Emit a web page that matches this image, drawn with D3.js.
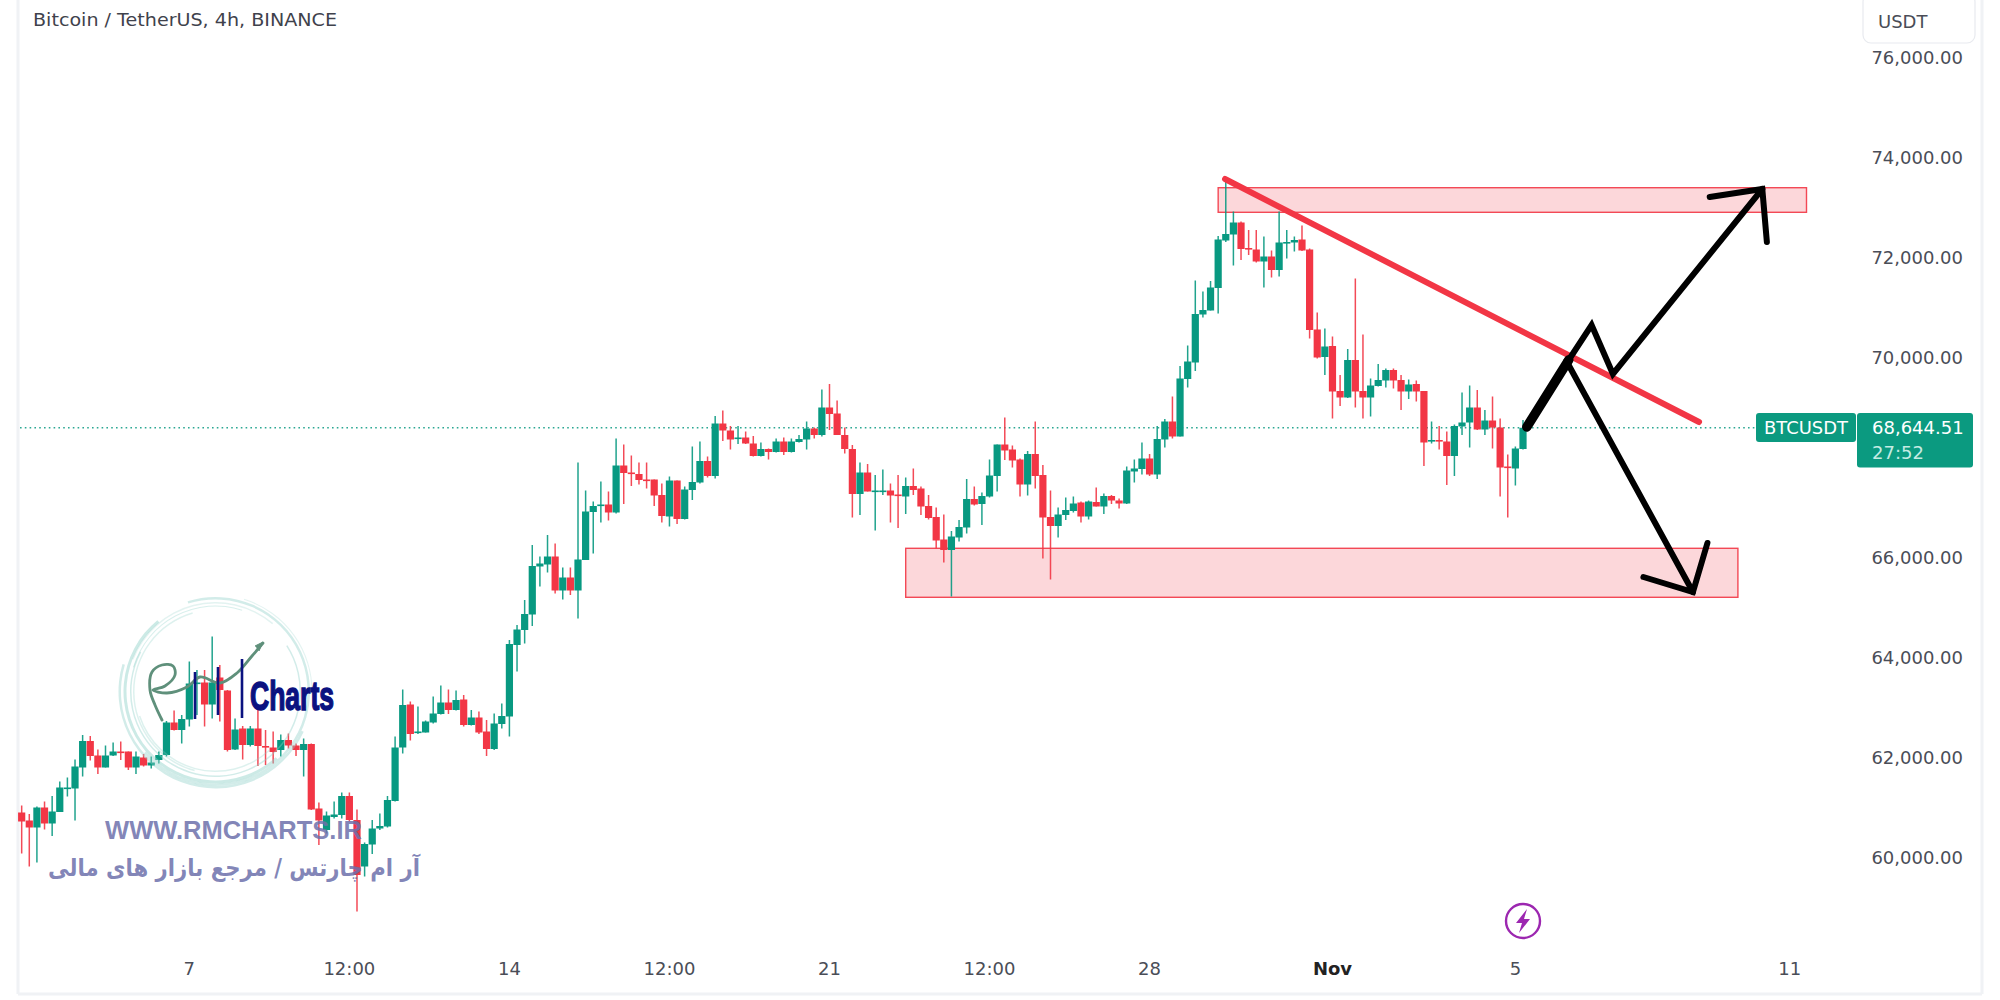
<!DOCTYPE html>
<html><head><meta charset="utf-8">
<style>html,body{margin:0;padding:0;background:#fff;overflow:hidden}svg{display:block}text{font-family:"DejaVu Sans",sans-serif}</style>
<script src="https://cdn.jsdelivr.net/npm/d3@7"></script></head><body>
<svg id="c" width="2000" height="1000"></svg>
<script>
const opens=[60950,60790,60650,61050,60730,60960,61440,61430,61850,62380,
62090,61850,62090,62170,62170,61850,62050,61890,62000,62100,
62750,62600,62810,63530,63550,63110,63650,63390,62210,62630,
62300,62630,62280,62250,62200,62400,62290,62200,62320,61030,
60600,60860,60900,61280,60800,59870,60310,60630,60670,61180,
62250,63110,62550,62550,62750,62920,63150,63000,63210,62700,
62850,62570,62220,62720,62870,64300,64600,64910,65870,65910,
66070,65390,65650,65390,66000,66960,67100,67110,66950,67890,
67750,67720,67610,67610,67300,66870,67590,66820,67400,67550,
67980,67680,68730,68590,68440,68450,68330,68080,68220,68160,
68370,68160,68360,68410,68630,68500,69050,68930,68500,68220,
67320,67750,67380,67380,67390,67310,67270,67480,67430,67080,
66860,66410,66200,66450,66650,67220,67120,67270,67680,68310,
68210,68010,67510,68120,67700,66860,66680,66900,66980,67150,
66870,67160,67070,67280,67190,67130,67770,67820,68030,67710,
68410,68770,68470,69620,69950,70910,70990,71440,72390,72510,
72750,72240,72210,71970,72070,71800,72350,72350,72410,72210,
70610,70060,70280,69380,69250,70000,69380,69250,69480,69590,
69800,69600,69370,69520,69380,68390,68400,68370,68080,68670,
68750,69050,68610,68790,68650,67870,67830,68220];
const closes=[60770,60650,61050,60730,60970,61450,61450,61870,62380,62080,
61850,62090,62170,62160,61850,62070,61890,61950,62100,62750,
62600,62820,63530,63550,63110,63550,63400,62200,62610,62300,
62630,62280,62250,62160,62400,62290,62200,62320,61010,60790,
60890,60910,61280,60800,59700,60320,60630,60680,61200,62250,
63100,62520,62570,62770,62930,63150,63000,63200,62700,62850,
62550,62220,62730,62880,64320,64610,64920,65880,65930,66070,
65390,65650,65390,66010,66970,67080,67110,66950,67890,67740,
67740,67600,67600,67290,66880,67590,66820,67410,67560,67980,
67680,68730,68590,68410,68450,68330,68080,68220,68160,68370,
68160,68370,68420,68630,68500,69050,68920,68500,68220,67320,
67750,67370,67390,67390,67290,67290,67480,67400,67070,66840,
66390,66200,66470,66660,67220,67110,67280,67690,68310,68190,
67990,67510,68120,67680,66850,66680,66910,67000,67130,66870,
67170,67070,67280,67190,67130,67790,67830,68030,67710,68420,
68770,68470,69630,69970,70920,71000,71450,72410,72520,72750,
72220,72230,71970,72070,71800,72350,72360,72400,72190,70600,
70050,70270,69370,69250,70000,69370,69250,69490,69600,69800,
69590,69370,69510,69370,68350,68400,68370,68080,68680,68750,
69050,68610,68790,68650,67850,67860,68230,68644.51];
const highs=[61090,60920,61070,61170,61280,61570,61650,62010,62500,62480,
62210,62290,62350,62370,62170,62170,62120,62070,62170,62780,
62990,62900,63970,63800,63800,64470,63900,63400,62830,62680,
62680,63000,62600,62570,62510,62530,62330,62430,62330,61150,
60970,61170,61350,61350,61010,60350,60800,60930,61280,62470,
63410,63170,63070,62790,63270,63490,63410,63390,63300,63000,
62970,62800,62930,63130,64400,64700,65200,66300,66070,66500,
66330,65850,65850,67950,67390,67170,67570,67370,68430,68310,
68090,67950,67950,67610,67530,67670,67590,67470,68270,68370,
68070,68880,68990,68680,68680,68570,68480,68350,68230,68430,
68450,68430,68500,68770,68650,69410,69520,69190,68650,68300,
67950,67920,67700,67810,67530,67700,67650,67830,67470,67300,
67050,66910,66580,66800,67620,67470,67350,68010,68310,68850,
68290,68030,68180,68770,67900,67390,67050,67250,67270,67170,
67190,67450,67330,67300,67230,67870,68010,68350,68120,68680,
68820,69270,69880,70290,71590,71370,71580,72480,73610,72970,
72770,72600,72600,72470,72190,72970,72600,72470,72690,72230,
70950,70630,70470,69700,70220,71630,70510,69630,69920,69830,
69830,69700,69610,69590,69380,68770,68680,68570,68710,69350,
69490,69400,69000,69270,68830,68110,68270,68800];
const lows=[60130,59870,59950,60610,60480,60960,61270,60790,61670,61990,
61720,61850,62080,62000,61800,61720,61870,61830,61930,62070,
62590,62330,62670,62900,62670,62830,62770,62170,62200,62010,
62270,61880,61900,61930,62070,62230,62080,61670,61000,60300,
60530,60830,60830,60770,58970,59670,60120,60600,60650,61170,
62130,62390,62520,62550,62730,62910,62920,62990,62670,62690,
62520,62080,62200,62630,62470,63770,64330,64680,65470,65750,
65330,65210,65300,64830,66000,66130,66750,66790,66930,67120,
67480,67510,67430,67080,66750,66670,66720,66810,67200,67530,
67650,67630,68380,68210,68320,68320,68070,68070,68010,68150,
68100,68150,68350,68210,68430,68470,68600,68500,68130,66850,
66900,67370,66590,67300,66750,66640,66920,67300,66900,66810,
66230,65950,65270,66370,66530,67090,66700,67250,67370,68000,
67850,67270,67290,67430,66030,65610,66450,66800,66950,66750,
66810,67070,66920,67120,67030,67120,67550,67710,67680,67620,
68250,68430,68470,69450,69780,70850,70990,70930,72360,71890,
72000,72100,71950,71450,71650,71670,72030,72170,72180,70430,
70030,69700,68830,69080,69240,69050,68830,68870,69470,69450,
69430,69000,69220,69170,67880,68330,68210,67500,67680,68500,
68250,68600,68500,68230,67270,66850,67490,68210];

const priceTicks=[60000,62000,64000,66000,68000,70000,72000,74000,76000];
const timeTickBars=[22,43,64,85,106,127,148,172,196,232];
const timeTickLabels=["7","12:00","14","12:00","21","12:00","28","Nov","5","11"];
const lastPrice=68644.51;
const zones=[{x0:157,x1:234.2,top:73446,bottom:72954},{x0:116,x1:225.2,top:66234,bottom:65254}];
const trendLine=[[157.9,73620],[220.1,68760]];
const zigzagThick=[[197.5,68660],[203,70000]];
const zigzagUp=[[203,70000],[206,70700],[208.8,69720],[228.4,73420]];
const headUp=[[221.5,73260],[228.4,73420],[229,72360]];
const arrowDown=[[202.7,69980],[219.3,65360]];
const headDown=[[212.8,65660],[219.3,65360],[221.2,66340]];

const GREEN="#089981",RED="#f23645";
const x=d3.scaleLinear().domain([0,197]).range([21.67,1523]);
const y=d3.scaleLinear().domain([60000,76000]).range([860,60]);
const svg=d3.select("#c");
svg.append("rect").attr("width",2000).attr("height",1000).attr("fill","#fff");

// frame
const frame=[[18,0,18,994],[18,994,1982,994],[1982,0,1982,994]];
svg.selectAll("line.frame").data(frame).join("line").attr("class","frame")
 .attr("x1",d=>d[0]).attr("y1",d=>d[1]).attr("x2",d=>d[2]).attr("y2",d=>d[3])
 .attr("stroke","#f0f2f5").attr("stroke-width",3);

// price line
svg.append("line").attr("x1",20).attr("x2",1756).attr("y1",y(lastPrice)).attr("y2",y(lastPrice))
 .attr("stroke",GREEN).attr("stroke-width",1.4).attr("stroke-dasharray","1.6 3.2").attr("opacity",.85);

// zones
svg.selectAll("rect.zone").data(zones).join("rect").attr("class","zone")
 .attr("x",d=>x(d.x0)).attr("width",d=>x(d.x1)-x(d.x0))
 .attr("y",d=>y(d.top)).attr("height",d=>y(d.bottom)-y(d.top))
 .attr("fill",RED).attr("fill-opacity",.2).attr("stroke",RED).attr("stroke-opacity",.9).attr("stroke-width",1.4);

// candles
const idx=d3.range(opens.length);
const col=i=>closes[i]>=opens[i]?GREEN:RED;
svg.append("g").selectAll("line").data(idx).join("line")
 .attr("x1",x).attr("x2",x).attr("y1",i=>y(highs[i])).attr("y2",i=>y(lows[i]))
 .attr("stroke",col).attr("stroke-width",1.5).attr("stroke-opacity",.9);
svg.append("g").selectAll("rect").data(idx).join("rect")
 .attr("x",i=>x(i)-3.6).attr("width",7.2)
 .attr("y",i=>y(Math.max(opens[i],closes[i])))
 .attr("height",i=>Math.max(1.6,Math.abs(y(opens[i])-y(closes[i]))))
 .attr("fill",col);

// watermark ring
const ring=svg.append("g").attr("transform","translate(215.5,691.5)");
const ringArcs=[[92,94.5,-0.3,4.0,.4],[84,85.5,1.0,5.2,.4],[88,89.5,-1.2,0.7,.25],[94.5,97,2.0,5.0,.4],[79,80.5,2.4,4.4,.3],
 [89,92,2.4,5.6,.45],[96,97,0.3,1.6,.25],[85,86,5.0,6.6,.35],[81,82.5,3.4,6.0,.3]];
ring.selectAll("path").data(ringArcs).join("path")
 .attr("d",d=>d3.arc()({innerRadius:d[0],outerRadius:d[1],startAngle:d[2],endAngle:d[3]}))
 .attr("fill","#8fd0c8").attr("fill-opacity",d=>d[4]);

// signature
const sig=[[162,720],[155,705],[150,690],[152,672],[162,665],[173,666],[175,675],[165,686],[153,690],[167,693],[187,687],[200,677],[220,683],[237,673],[252,656],[263,643]];
svg.append("path").attr("d",d3.line().curve(d3.curveCatmullRom)(sig)).attr("fill","none").attr("stroke","#5f907b").attr("stroke-width",2.8).attr("stroke-linecap","round");
svg.append("path").attr("d",d3.line()([[255,646],[263,642],[259,651]])).attr("fill","#5f907b").attr("stroke","#5f907b");
const navy=[[195,672,719],[218,667,715],[242,659,718]];
svg.selectAll("line.navy").data(navy).join("line").attr("class","navy")
 .attr("x1",d=>d[0]).attr("x2",d=>d[0]).attr("y1",d=>d[1]).attr("y2",d=>d[2]).attr("stroke","#0b1280").attr("stroke-width",2.6);
svg.append("text").text("Charts").attr("x",250).attr("y",710).attr("font-size",40)
 .attr("style",'font-family:"Liberation Sans Narrow","Liberation Sans";font-weight:700').attr("fill","#0b1280").attr("stroke","#0b1280").attr("stroke-width",1.5)
 .attr("textLength",84).attr("lengthAdjust","spacingAndGlyphs");
svg.append("text").text("WWW.RMCHARTS.IR").attr("x",105).attr("y",839).attr("font-size",25.5)
 .attr("style",'font-family:"Liberation Sans";font-weight:700').attr("fill","#6d70ab").attr("fill-opacity",.85)
 .attr("textLength",257).attr("lengthAdjust","spacingAndGlyphs");
svg.append("text").text("آر ام چارتس / مرجع بازار های مالی").attr("text-anchor","middle").attr("direction","rtl")
 .attr("transform","translate(234,876) scale(0.885,1)").attr("font-size",24)
 .attr("style",'font-family:"DejaVu Sans";font-weight:700').attr("fill","#6d70ab").attr("fill-opacity",.85);

// drawings
const ln=d3.line().x(d=>x(d[0])).y(d=>y(d[1]));
function draw(pts,w,c){svg.append("path").attr("d",ln(pts)).attr("fill","none").attr("stroke",c).attr("stroke-width",w).attr("stroke-linecap","round").attr("stroke-linejoin","miter");}
draw(trendLine,6,RED);
draw(zigzagThick,9.5,"#000");
draw(zigzagUp,6,"#000");
draw(headUp,6,"#000");
draw(arrowDown,6,"#000");
draw(headDown,6,"#000");

// price axis
const axisC="#4a4d57";
svg.selectAll("text.yt").data(priceTicks).join("text").attr("class","yt")
 .attr("x",1963).attr("y",d=>y(d)-2).attr("dy",".36em").attr("text-anchor","end")
 .attr("font-size",18).attr("fill",axisC).text(d=>d3.format(",.2f")(d));
// the currency button covers the top of the highest price label
svg.append("rect").attr("x",1860).attr("y",0).attr("width",118).attr("height",50).attr("fill","#fff");
svg.append("rect").attr("x",1863).attr("y",-6).attr("width",112).attr("height",49).attr("rx",8)
 .attr("fill","#fff").attr("stroke","#e8eaef").attr("stroke-width",1.2);
svg.append("text").attr("x",1878).attr("y",28).attr("font-size",18).attr("fill",axisC).text("USDT");

// time axis
svg.selectAll("text.xt").data(timeTickBars).join("text").attr("class","xt")
 .attr("x",d=>x(d)).attr("y",975).attr("text-anchor","middle").attr("font-size",18)
 .attr("fill",(d,i)=>timeTickLabels[i]==="Nov"?"#222":axisC).attr("font-weight",(d,i)=>timeTickLabels[i]==="Nov"?600:400)
 .text((d,i)=>timeTickLabels[i]);

// title
svg.append("text").attr("x",33).attr("y",26).attr("font-size",17.5).attr("fill","#3f424c")
 .attr("textLength",304).attr("lengthAdjust","spacingAndGlyphs").text("Bitcoin / TetherUS, 4h, BINANCE");

// labels
svg.append("rect").attr("x",1756).attr("y",413).attr("width",100).attr("height",29).attr("rx",3).attr("fill","#0b9a80");
svg.append("text").attr("x",1806).attr("y",434).attr("text-anchor","middle").attr("font-size",18).attr("fill","#fff").attr("textLength",84).attr("lengthAdjust","spacingAndGlyphs").text("BTCUSDT");
svg.append("rect").attr("x",1857).attr("y",413).attr("width",116).attr("height",54.5).attr("rx",3).attr("fill","#0b9a80");
svg.append("text").attr("x",1872).attr("y",434).attr("font-size",18).attr("fill","#fff").text(d3.format(",.2f")(lastPrice));
svg.append("text").attr("x",1872).attr("y",459).attr("font-size",18).attr("fill","#c5ebe3").text("27:52");

// bolt
svg.append("circle").attr("cx",1523).attr("cy",921).attr("r",17).attr("fill","#fff").attr("stroke","#9c27b0").attr("stroke-width",2.4);
svg.append("path").attr("d",d3.line()([[1527,909],[1516,923],[1522,923],[1519,933],[1530,919],[1524,919]])+"Z").attr("fill","#9c27b0");
</script></body></html>
